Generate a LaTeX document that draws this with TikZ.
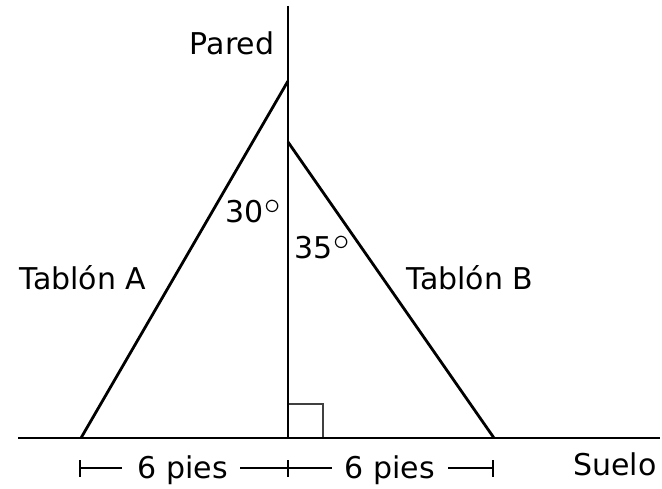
\documentclass[tikz,border=0pt]{standalone}
\usepackage{fontspec}
\setmainfont{DejaVu Sans}
\newcommand{\degmark}{\raisebox{0.28em}{\scalebox{1.3}{$\circ$}}}
\begin{document}
\begin{tikzpicture}[x=1pt,y=-1pt,
  main/.style={line width=2.8pt},
  thin/.style={line width=1.6pt, black!75},
  dim/.style={line width=1.8pt},
  lbl/.style={font=\fontsize{30}{34}\selectfont, inner sep=0pt, anchor=base}]
\useasboundingbox (0,0) rectangle (662,489);
% coordinates
\coordinate (wtop) at (288,6);
\coordinate (wbot) at (288,438);
\coordinate (gl) at (18,438);
\coordinate (gr) at (660,438);
\coordinate (atop) at (288,81);
\coordinate (abot) at (81,438);
\coordinate (btop) at (288,142);
\coordinate (bbot) at (494,438);
% ground and wall
\draw[main] (gl) -- (gr);
\draw[main] (wtop) -- (wbot);
% planks
\draw[main] (abot) -- (atop);
\draw[main] (btop) -- (bbot);
% right angle mark
\draw[thin] (289,404) -- (323,404) -- (323,437);
% labels
\node[lbl] (pared) at (232,55) {Pared};
\node[lbl] (a30) at (253,223) {30\degmark};
\node[lbl] (a35) at (322,259) {35\degmark};
\node[lbl] (ta) at (83,290) {Tablón A};
\node[lbl] (tb) at (470,290) {Tablón B};
\node[lbl] (suelo) at (615,475) {Suelo};
% dimension
\node[lbl] (d1) at (183,478) {6 pies};
\node[lbl] (d2) at (390,478) {6 pies};
\coordinate (k1) at (80,468);
\coordinate (k2) at (288,468);
\coordinate (k3) at (493,468);
\draw[dim] (80,460) -- (80,477);
\draw[dim] (288,460) -- (288,477);
\draw[dim] (493,460) -- (493,477);
\draw[dim] (k1) -- (122,468);
\draw[dim] (240,468) -- (k2) -- (332,468);
\draw[dim] (448,468) -- (k3);
\end{tikzpicture}
\end{document}
